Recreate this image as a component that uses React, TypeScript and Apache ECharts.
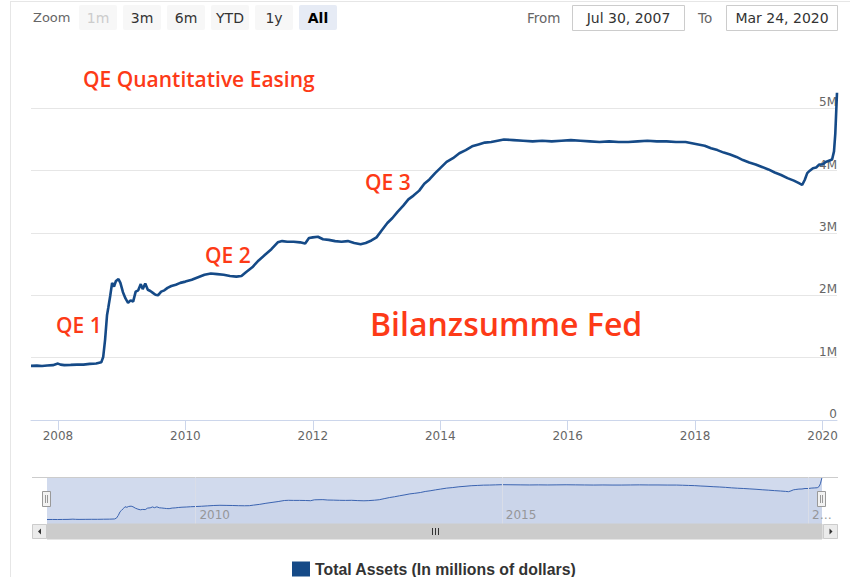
import React, { useEffect, useRef } from 'react';
import * as echarts from 'echarts';

// ---- data (decimal years, total assets in millions of dollars) ----
const dates: number[] = [
  2007.577, 2007.67, 2007.75, 2007.83, 2007.92, 2008.0, 2008.04, 2008.1, 2008.2, 2008.3,
  2008.4, 2008.5, 2008.6, 2008.68, 2008.71, 2008.74, 2008.77, 2008.79, 2008.82, 2008.85,
  2008.88, 2008.91, 2008.95, 2008.98, 2009.02, 2009.06, 2009.1, 2009.14, 2009.18, 2009.22,
  2009.26, 2009.3, 2009.33, 2009.37, 2009.41, 2009.45, 2009.49, 2009.53, 2009.57, 2009.62,
  2009.67, 2009.72, 2009.78, 2009.85, 2009.92, 2010.0, 2010.1, 2010.2, 2010.3, 2010.4,
  2010.5, 2010.6, 2010.7, 2010.8, 2010.88, 2010.95, 2011.05, 2011.15, 2011.25, 2011.35,
  2011.45, 2011.52, 2011.6, 2011.7, 2011.8, 2011.88, 2011.94, 2012.0, 2012.08, 2012.16,
  2012.25, 2012.35, 2012.45, 2012.55, 2012.65, 2012.75, 2012.83, 2012.92, 2013.0, 2013.08,
  2013.17, 2013.25, 2013.33, 2013.42, 2013.5, 2013.58, 2013.67, 2013.75, 2013.83, 2013.92,
  2014.0, 2014.1, 2014.2, 2014.3, 2014.4, 2014.5, 2014.6, 2014.7, 2014.8, 2014.9,
  2015.0, 2015.15, 2015.3, 2015.45, 2015.6, 2015.75, 2015.9, 2016.05, 2016.2, 2016.35,
  2016.5, 2016.65, 2016.8, 2016.95, 2017.1, 2017.25, 2017.4, 2017.55, 2017.7, 2017.85,
  2017.95, 2018.05, 2018.15, 2018.25, 2018.35, 2018.45, 2018.55, 2018.65, 2018.75, 2018.85,
  2018.95, 2019.05, 2019.15, 2019.25, 2019.35, 2019.45, 2019.55, 2019.63, 2019.68, 2019.72,
  2019.76, 2019.8, 2019.85, 2019.9, 2019.95, 2020.0, 2020.05, 2020.1, 2020.15, 2020.18,
  2020.2, 2020.227,
];
const totalAssets: number[] = [
  869000, 872000, 867000, 875000, 880000, 905000, 888000, 880000, 884000, 889000,
  888000, 900000, 906000, 925000, 1010000, 1290000, 1680000, 1800000, 1990000, 2200000,
  2140000, 2230000, 2260000, 2200000, 2050000, 1950000, 1880000, 1920000, 1900000, 2060000,
  2080000, 2180000, 2100000, 2190000, 2090000, 2070000, 2040000, 2010000, 2000000, 2060000,
  2080000, 2120000, 2150000, 2170000, 2200000, 2220000, 2250000, 2290000, 2330000, 2350000,
  2340000, 2330000, 2310000, 2300000, 2310000, 2370000, 2450000, 2560000, 2650000, 2740000,
  2850000, 2870000, 2860000, 2860000, 2850000, 2830000, 2920000, 2930000, 2940000, 2900000,
  2890000, 2870000, 2860000, 2870000, 2840000, 2820000, 2840000, 2880000, 2930000, 3040000,
  3160000, 3240000, 3340000, 3440000, 3540000, 3600000, 3680000, 3790000, 3860000, 3960000,
  4040000, 4140000, 4200000, 4280000, 4330000, 4390000, 4420000, 4450000, 4460000, 4480000,
  4500000, 4490000, 4480000, 4470000, 4480000, 4470000, 4480000, 4490000, 4480000, 4470000,
  4460000, 4470000, 4460000, 4460000, 4470000, 4480000, 4470000, 4470000, 4460000, 4460000,
  4440000, 4420000, 4400000, 4360000, 4330000, 4290000, 4260000, 4220000, 4170000, 4130000,
  4100000, 4060000, 4020000, 3970000, 3930000, 3880000, 3840000, 3800000, 3770000, 3850000,
  3960000, 4000000, 4040000, 4050000, 4100000, 4100000, 4140000, 4160000, 4180000, 4310000,
  4590000, 5250000,
];
const xAxisYears: number[] = [2008, 2010, 2012, 2014, 2016, 2018, 2020];
const navigatorYears: number[] = [2010, 2015, 2020];
const rangeButtons: string[] = ['1m', '3m', '6m', 'YTD', '1y', 'All'];
const selectedButton = 'All';
const disabledButtons: string[] = ['1m'];
const fromDate = 'Jul 30, 2007';
const toDate = 'Mar 24, 2020';
const seriesName = 'Total Assets (In millions of dollars)';
const titleText = 'QE Quantitative Easing';
const qeLabels: string[] = ['QE 1', 'QE 2', 'QE 3'];
const bigLabel = 'Bilanzsumme Fed';

const X_MIN = 2007.577;
const X_MAX = 2020.227;

const LINE = '#154a87';
const RED = '#fd3a17';
const UI_FONT = '"DejaVu Sans", sans-serif';
const ANNO_FONT = '"Open Sans", "Liberation Sans", sans-serif';

function buildGraphic() {
  const g: any[] = [];
  // container borders
  g.push({ type: 'line', silent: true, shape: { x1: 10.5, y1: 1, x2: 10.5, y2: 577 }, style: { stroke: '#e6e6e6', lineWidth: 1 } });
  g.push({ type: 'line', silent: true, shape: { x1: 10, y1: 1.5, x2: 850, y2: 1.5 }, style: { stroke: '#e6e6e6', lineWidth: 1 } });

  // range selector
  g.push({ type: 'text', x: 33, y: 17.5, style: { text: 'Zoom', fill: '#666', font: `13px ${UI_FONT}`, align: 'left', verticalAlign: 'middle', textAlign: 'left', textVerticalAlign: 'middle' } });
  rangeButtons.forEach((b, i) => {
    const x = 79 + 44 * i;
    const sel = b === selectedButton;
    const dis = disabledButtons.includes(b);
    g.push({ type: 'rect', shape: { x, y: 5, width: 38, height: 25, r: 2 }, style: { fill: sel ? '#e6ebf5' : '#f7f7f7' } });
    g.push({
      type: 'text', x: x + 19, y: 17.5,
      style: {
        text: b, fill: dis ? '#cccccc' : sel ? '#000' : '#333',
        font: `${sel ? 'bold ' : ''}14px ${UI_FONT}`,
        align: 'center', verticalAlign: 'middle', textAlign: 'center', textVerticalAlign: 'middle',
      },
    });
  });
  g.push({ type: 'text', x: 527, y: 17.5, style: { text: 'From', fill: '#666', font: `13.5px ${UI_FONT}`, align: 'left', verticalAlign: 'middle', textAlign: 'left', textVerticalAlign: 'middle' } });
  g.push({ type: 'rect', shape: { x: 572.5, y: 5.5, width: 112, height: 25 }, style: { fill: '#fff', stroke: '#cccccc', lineWidth: 1 } });
  g.push({ type: 'text', x: 628.5, y: 18, style: { text: fromDate, fill: '#333', font: `14px ${UI_FONT}`, align: 'center', verticalAlign: 'middle', textAlign: 'center', textVerticalAlign: 'middle' } });
  g.push({ type: 'text', x: 698, y: 17.5, style: { text: 'To', fill: '#666', font: `13.5px ${UI_FONT}`, align: 'left', verticalAlign: 'middle', textAlign: 'left', textVerticalAlign: 'middle' } });
  g.push({ type: 'rect', shape: { x: 726.5, y: 5.5, width: 111, height: 25 }, style: { fill: '#fff', stroke: '#cccccc', lineWidth: 1 } });
  g.push({ type: 'text', x: 782, y: 18, style: { text: toDate, fill: '#333', font: `14px ${UI_FONT}`, align: 'center', verticalAlign: 'middle', textAlign: 'center', textVerticalAlign: 'middle' } });

  // annotations
  const anno = (text: string, x: number, y: number, size: number) => ({
    type: 'text', x, y, z: 20,
    style: { text, fill: RED, font: `600 ${size}px ${ANNO_FONT}`, align: 'left', verticalAlign: 'middle', textAlign: 'left', textVerticalAlign: 'middle' },
  });
  g.push(anno(titleText, 83, 79, 21));
  g.push(anno(qeLabels[0], 56, 325, 21));
  g.push(anno(qeLabels[1], 205, 255, 21));
  g.push(anno(qeLabels[2], 365, 182, 21));
  g.push(anno(bigLabel, 370, 323, 32));

  // navigator mask + outline
  g.push({ type: 'rect', silent: true, shape: { x: 47, y: 477.5, width: 775, height: 46.5 }, style: { fill: 'rgba(102,133,194,0.3)' } });
  g.push({ type: 'line', silent: true, z: 5, shape: { x1: 32, y1: 477.5, x2: 838, y2: 477.5 }, style: { stroke: '#cccccc', lineWidth: 1 } });

  // handles
  [47, 822].forEach((hx) => {
    g.push({ type: 'rect', z: 10, shape: { x: hx - 4.5, y: 491.5, width: 8, height: 15 }, style: { fill: '#f2f2f2', stroke: '#999', lineWidth: 1 } });
    g.push({ type: 'line', z: 11, shape: { x1: hx - 1.5, y1: 495, x2: hx - 1.5, y2: 503 }, style: { stroke: '#999', lineWidth: 1 } });
    g.push({ type: 'line', z: 11, shape: { x1: hx + 0.5, y1: 495, x2: hx + 0.5, y2: 503 }, style: { stroke: '#999', lineWidth: 1 } });
  });

  // scrollbar
  g.push({ type: 'rect', z: 5, shape: { x: 32, y: 524, width: 806, height: 15 }, style: { fill: '#f2f2f2' } });
  g.push({ type: 'rect', z: 6, shape: { x: 47, y: 524, width: 775, height: 15 }, style: { fill: '#cccccc', stroke: '#cccccc', lineWidth: 1 } });
  g.push({ type: 'rect', z: 6, shape: { x: 32.5, y: 524.5, width: 14, height: 14 }, style: { fill: '#ebebeb', stroke: '#cccccc', lineWidth: 1 } });
  g.push({ type: 'rect', z: 6, shape: { x: 823.5, y: 524.5, width: 14, height: 14 }, style: { fill: '#ebebeb', stroke: '#cccccc', lineWidth: 1 } });
  g.push({ type: 'polygon', z: 7, shape: { points: [[41, 528.5], [41, 534.5], [38, 531.5]] }, style: { fill: '#333' } });
  g.push({ type: 'polygon', z: 7, shape: { points: [[829.5, 528.5], [829.5, 534.5], [832.5, 531.5]] }, style: { fill: '#333' } });
  [432.5, 435.5, 438.5].forEach((rx) => {
    g.push({ type: 'line', z: 7, shape: { x1: rx, y1: 528, x2: rx, y2: 535 }, style: { stroke: '#333', lineWidth: 1 } });
  });
  return g;
}

export default function App() {
  const ref = useRef<HTMLDivElement>(null);
  useEffect(() => {
    if (!ref.current) return;
    const chart = echarts.init(ref.current, null, { renderer: 'svg' });
    const seriesData = dates.map((d, i) => [d, totalAssets[i]]);
    const option: any = {
      animation: false,
      backgroundColor: '#fff',
      grid: [
        { left: 31, right: 13, top: 46, bottom: 157 },
        { left: 47, right: 28, top: 477, bottom: 53 },
      ],
      xAxis: [
        {
          type: 'value', gridIndex: 0, min: X_MIN, max: X_MAX,
          axisLine: { lineStyle: { color: '#ccd6eb', width: 1 } },
          axisTick: { customValues: xAxisYears, length: 10, lineStyle: { color: '#ccd6eb' } },
          axisLabel: { customValues: xAxisYears, color: '#666', fontSize: 12, fontFamily: UI_FONT, margin: 10, formatter: (v: number) => String(Math.round(v)) },
          splitLine: { show: false },
        },
        {
          type: 'value', gridIndex: 1, min: X_MIN, max: X_MAX,
          axisLine: { show: false }, axisTick: { show: false },
          axisLabel: {
            customValues: navigatorYears, inside: true, align: 'left', color: '#999', fontSize: 12, fontFamily: UI_FONT,
            margin: 3, padding: [0, 0, 0, 4],
            formatter: (v: number) => (Math.round(v) === 2020 ? '2…' : String(Math.round(v))),
          },
          splitLine: { show: false },
        },
      ],
      yAxis: [
        {
          type: 'value', gridIndex: 0, position: 'right', min: 0, max: 6000000, interval: 1000000,
          axisLine: { show: false }, axisTick: { show: false },
          axisLabel: {
            inside: true, margin: 0, verticalAlign: 'bottom', color: '#666', fontSize: 12, fontFamily: UI_FONT,
            showMaxLabel: false,
            formatter: (v: number) => (v === 0 ? '0' : `${v / 1000000}M`),
          },
          splitLine: { lineStyle: { color: '#e6e6e6', width: 1 }, showMaxLine: false, showMinLine: false },
        },
        { type: 'value', gridIndex: 1, min: 400000, max: 5300000, show: false },
      ],
      legend: {
        data: [seriesName], left: 292, top: 561, padding: 0, icon: 'rect', itemWidth: 18, itemHeight: 15, itemGap: 6,
        textStyle: { color: '#333', fontWeight: 'bold', fontSize: 15.8, lineHeight: 16, fontFamily: '"Liberation Sans", Arial, sans-serif' },
        selectedMode: false,
      },
      graphic: buildGraphic(),
      series: [
        {
          name: seriesName, type: 'line', xAxisIndex: 0, yAxisIndex: 0, data: seriesData,
          showSymbol: false, symbol: 'none', color: LINE, itemStyle: { color: LINE },
          lineStyle: { color: LINE, width: 2.6 }, z: 3,
        },
        {
          name: 'navigator', type: 'line', xAxisIndex: 1, yAxisIndex: 1, data: seriesData,
          showSymbol: false, symbol: 'none', lineStyle: { color: '#3a63b0', width: 1 },
          areaStyle: { color: 'rgba(51,92,173,0.05)' },
          markLine: {
            silent: true, symbol: 'none', label: { show: false },
            lineStyle: { color: '#d9dde8', type: 'solid', width: 1 },
            data: navigatorYears.map((y) => ({ xAxis: y })),
          },
        },
      ],
    };
    chart.setOption(option);
    return () => chart.dispose();
  }, []);
  return <div ref={ref} style={{ position: 'fixed', left: 0, top: 0, width: 850, height: 577, background: '#fff' }} />;
}
